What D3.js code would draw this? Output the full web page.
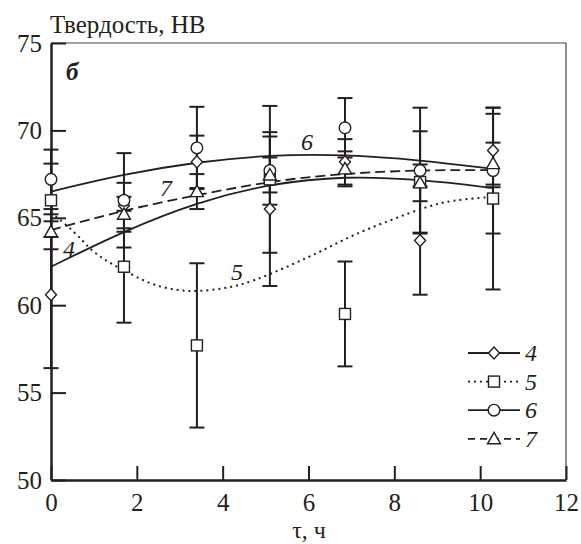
<!DOCTYPE html>
<html>
<head>
<meta charset="utf-8">
<script src="https://cdn.jsdelivr.net/npm/d3@7"></script>
</head>
<body style="margin:0; background:#fff">
<svg id="chart" width="581" height="544"></svg>
<script>
// measured points (tau, hours)
var tau = [0, 1.7, 3.4, 5.1, 6.85, 8.6, 10.3];

var hb4 = [60.6, 65.7, 68.2, 65.5, 68.2, 63.7, 68.85];
var err4 = [4.2, 1.3, 1.5, 4.4, 1.3, 3.1, 2.1];
var hb5 = [66.0, 62.2, 57.7, 67.2, 59.5, 67.05, 66.1];
var err5 = [2.1, 3.2, 4.7, 4.2, 3.0, 2.9, 5.2];
var hb6 = [67.2, 66.0, 69.0, 67.7, 70.15, 67.7, 67.7];
var err6 = [1.7, 2.7, 2.35, 1.95, 1.7, 3.6, 3.6];
var hb7 = [64.2, 65.2, 66.5, 67.45, 67.8, 67.0, 68.1];
var err7 = [1.0, 1.0, 1.0, 1.0, 1.0, 1.05, 1.2];

// trend curves
var fitTau = [0, 1.7, 3.4, 5.1, 6.85, 8.6, 10.3];
var fit4 = [62.2, 64.25, 65.9, 66.95, 67.4, 67.2, 66.7];
var fit6 = [66.5, 67.5, 68.2, 68.6, 68.63, 68.3, 67.8];
var fit7 = [64.3, 65.45, 66.3, 67.1, 67.55, 67.73, 67.73];
var fit5Tau = [0, 0.6, 0.9, 1.3, 1.7, 2.3, 2.9, 3.4, 4.1, 4.7, 5.6, 6.35, 7.1, 7.9, 8.7, 9.3, 10.3];
var fit5 = [65.3, 64.1, 63.2, 62.5, 62.0, 61.2, 60.85, 60.77, 60.97, 61.35, 62.3, 63.15, 64.1, 64.85, 65.6, 66.0, 66.2];

var xTicks = [0, 2, 4, 6, 8, 10, 12];
var yTicks = [50, 55, 60, 65, 70, 75];
var seriesNames = ["4", "5", "6", "7"];

var svg = d3.select("#chart");
var ink = "#231f20";
var serif = "'Liberation Serif'";

var x = d3.scaleLinear().domain([0, 12]).range([51, 566]);
var y = d3.scaleLinear().domain([50, 75]).range([480, 43]);

var series = [
    {name: "4", vals: hb4, err: err4, marker: "diamond", dash: null, fitX: fitTau, fitY: fit4},
    {name: "5", vals: hb5, err: err5, marker: "square", dash: "2,4", fitX: fit5Tau, fitY: fit5},
    {name: "6", vals: hb6, err: err6, marker: "circle", dash: null, fitX: fitTau, fitY: fit6},
    {name: "7", vals: hb7, err: err7, marker: "triangle", dash: "10,5", fitX: fitTau, fitY: fit7}
];

function serifText(sel, size) {
    return sel.style("font-family", serif)
        .style("font-size", size + "px")
        .attr("fill", ink);
}

// frame (top and right)
svg.append("line").attr("x1", x(0)).attr("x2", x(12)).attr("y1", y(75)).attr("y2", y(75))
    .attr("stroke", "#444").attr("stroke-width", 1.2);
svg.append("line").attr("x1", x(12)).attr("x2", x(12)).attr("y1", y(75)).attr("y2", y(50))
    .attr("stroke", "#444").attr("stroke-width", 1.2);

// axes
var xAxis = svg.append("g")
    .attr("transform", "translate(0," + y(50) + ")")
    .call(d3.axisBottom(x).tickValues(xTicks).tickSize(-14).tickSizeOuter(0).tickPadding(13));
var yAxis = svg.append("g")
    .attr("transform", "translate(" + x(0) + ",0)")
    .call(d3.axisLeft(y).tickValues(yTicks).tickSize(-15).tickSizeOuter(0).tickPadding(9));

[xAxis, yAxis].forEach(function (g) {
    g.attr("font-family", null).attr("font-size", null);
    g.select(".domain").attr("stroke", ink).attr("stroke-width", 2.5);
    g.selectAll(".tick line").attr("stroke", ink).attr("stroke-width", 2);
    serifText(g.selectAll(".tick text"), 25);
});

// trend lines
var line = d3.line()
    .x(function (d) { return x(d[0]); })
    .y(function (d) { return y(d[1]); })
    .curve(d3.curveBasis);

series.forEach(function (s) {
    var pts = s.fitX.map(function (t, i) { return [t, s.fitY[i]]; });
    svg.append("path")
        .attr("d", line(pts))
        .attr("fill", "none")
        .attr("stroke", ink)
        .attr("stroke-width", s.dash === "2,4" ? 2 : 1.8)
        .attr("stroke-dasharray", s.dash);
});

// error bars
var capW = 7.5;
series.forEach(function (s) {
    var g = svg.append("g").attr("stroke", ink).attr("stroke-width", 2);
    tau.forEach(function (t, i) {
        var cx = x(t),
            lo = y(s.vals[i] - s.err[i]),
            hi = y(s.vals[i] + s.err[i]);
        g.append("line").attr("x1", cx).attr("x2", cx).attr("y1", lo).attr("y2", hi);
        g.append("line").attr("x1", cx - capW).attr("x2", cx + capW).attr("y1", lo).attr("y2", lo);
        g.append("line").attr("x1", cx - capW).attr("x2", cx + capW).attr("y1", hi).attr("y2", hi);
    });
});

function drawMarker(g, type, cx, cy) {
    var m;
    if (type === "diamond") {
        m = g.append("path").attr("d", "M" + cx + "," + (cy - 6) + "L" + (cx + 5.5) + "," + cy +
            "L" + cx + "," + (cy + 6) + "L" + (cx - 5.5) + "," + cy + "Z");
    } else if (type === "square") {
        m = g.append("rect").attr("x", cx - 5.5).attr("y", cy - 5.5).attr("width", 11).attr("height", 11);
    } else if (type === "circle") {
        m = g.append("circle").attr("cx", cx).attr("cy", cy).attr("r", 5.8);
    } else {
        m = g.append("path").attr("d", "M" + cx + "," + (cy - 6.5) + "L" + (cx + 6.5) + "," + (cy + 5) +
            "L" + (cx - 6.5) + "," + (cy + 5) + "Z");
    }
    m.attr("fill", "#fff").attr("stroke", ink).attr("stroke-width", 1.4);
}

// markers
series.forEach(function (s) {
    var g = svg.append("g");
    tau.forEach(function (t, i) {
        drawMarker(g, s.marker, x(t), y(s.vals[i]));
    });
});

// curve labels
var curveLabels = [
    {text: "4", px: 69, py: 257},
    {text: "5", px: 237, py: 280},
    {text: "6", px: 307, py: 150},
    {text: "7", px: 166, py: 196}
];
serifText(svg.selectAll(".clabel")
    .data(curveLabels)
    .enter().append("text")
    .attr("class", "clabel")
    .attr("x", function (d) { return d.px; })
    .attr("y", function (d) { return d.py; })
    .attr("text-anchor", "middle")
    .text(function (d) { return d.text; }), 24)
    .style("font-style", "italic");

// panel letter
serifText(svg.append("text").attr("x", 66).attr("y", 80).text("б"), 25)
    .style("font-style", "italic").style("font-weight", "bold");

// legend
var legend = svg.append("g");
series.forEach(function (s, i) {
    var ly = 353 + i * 28.6;
    legend.append("line")
        .attr("x1", 468).attr("x2", 520).attr("y1", ly).attr("y2", ly)
        .attr("stroke", ink).attr("stroke-width", 1.8)
        .attr("stroke-dasharray", s.dash === "10,5" ? "7,5" : s.dash);
    drawMarker(legend, s.marker, 494, ly);
    serifText(legend.append("text")
        .attr("x", 525).attr("y", ly + 8)
        .text(seriesNames[i]), 24)
        .style("font-style", "italic");
});

// axis titles
serifText(svg.append("text").attr("x", 50).attr("y", 33).text("Твердость, НВ"), 25);
serifText(svg.append("text").attr("x", 309).attr("y", 538)
    .attr("text-anchor", "middle").text("τ, ч"), 24);
</script>
</body>
</html>
